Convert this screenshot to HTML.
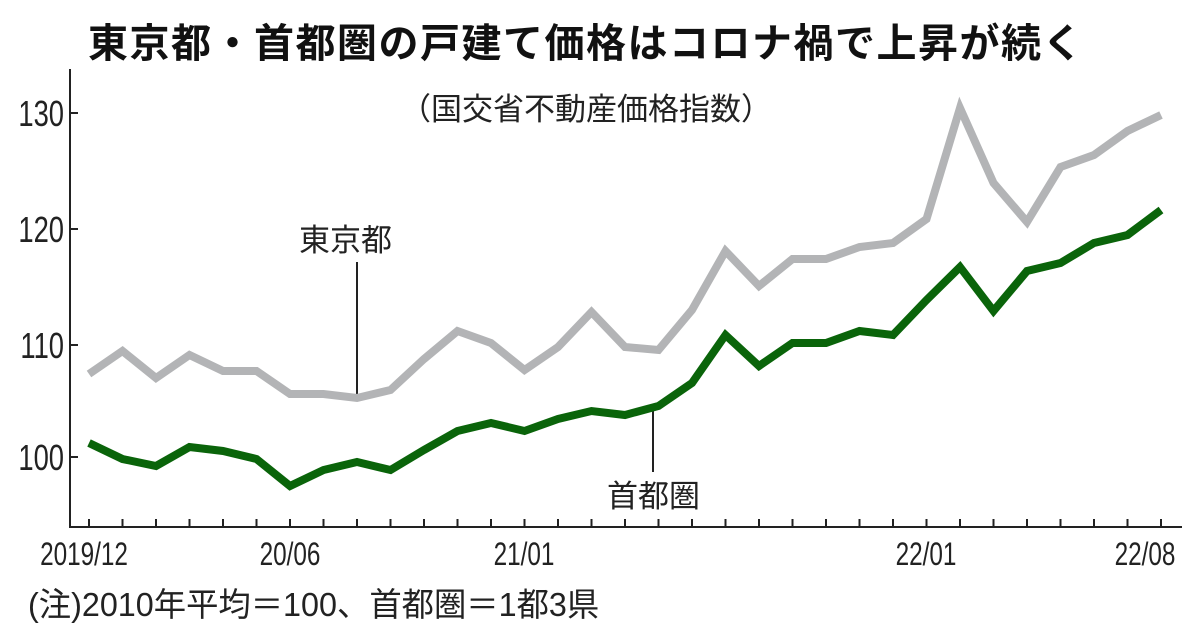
<!DOCTYPE html>
<html><head><meta charset="utf-8"><style>
html,body{margin:0;padding:0;background:#fff;}
svg{display:block;}
</style></head><body>
<svg width="1200" height="630" viewBox="0 0 1200 630" xmlns="http://www.w3.org/2000/svg">
<rect width="1200" height="630" fill="#fff"/>
<text x="88" y="57" font-family="'Liberation Sans','Noto Sans CJK JP',sans-serif" font-weight="bold" font-size="40" letter-spacing="1.5" fill="#111">東京都・首都圏の戸建て価格はコロナ禍で上昇が続く</text>
<text x="400" y="120" font-family="'Liberation Sans','Noto Sans CJK JP',sans-serif" font-size="31" fill="#222">（国交省不動産価格指数）</text>
<g stroke="#222" stroke-width="2" fill="none">
<path d="M70,69 V527 H1182"/>
<path d="M70,113 h8 M70,229 h8 M70,345 h8 M70,457 h8"/>
<path d="M89,527v-8 M122.5,527v-8 M156,527v-8 M189.5,527v-8 M223,527v-8 M256.5,527v-8 M290,527v-8 M323.5,527v-8 M357,527v-8 M390.5,527v-8 M424,527v-8 M457.5,527v-8 M491,527v-8 M524.5,527v-8 M558,527v-8 M591.5,527v-8 M625,527v-8 M658.5,527v-8 M692,527v-8 M725.5,527v-8 M759,527v-8 M792.5,527v-8 M826,527v-8 M859.5,527v-8 M893,527v-8 M926.5,527v-8 M960,527v-8 M993.5,527v-8 M1027,527v-8 M1060.5,527v-8 M1094,527v-8 M1127.5,527v-8 M1161,527v-8"/>
<path d="M357,262 V396 M653,410 V472"/>
</g>
<g font-family="'Liberation Sans',sans-serif" font-size="36" fill="#222" text-anchor="end">
<text transform="translate(64,126) scale(0.76,1)">130</text>
<text transform="translate(64,242) scale(0.76,1)">120</text>
<text transform="translate(64,358) scale(0.76,1)">110</text>
<text transform="translate(64,470) scale(0.76,1)">100</text>
</g>
<g font-family="'Liberation Sans',sans-serif" font-size="32" fill="#222" text-anchor="middle">
<text transform="translate(84,565) scale(0.76,1)">2019/12</text>
<text transform="translate(290,565) scale(0.76,1)">20/06</text>
<text transform="translate(524,565) scale(0.76,1)">21/01</text>
<text transform="translate(926,565) scale(0.76,1)">22/01</text>
<text transform="translate(1145,565) scale(0.76,1)">22/08</text>
</g>
<polyline fill="none" stroke="#b3b4b6" stroke-width="8" points="89,374 122.5,351 156,378 189.5,355 223,371 256.5,371 290,394 323.5,394 357,398 390.5,390 424,359 457.5,331 491,343 524.5,370 558,347 591.5,312 625,347 658.5,350 692,310 725.5,251 759,286 792.5,259 826,259 859.5,247 893,243 926.5,219 960,108 993.5,183 1027,222 1060.5,167 1094,155 1127.5,131 1161,115"/>
<polyline fill="none" stroke="#0a640a" stroke-width="8" points="89,443 122.5,459 156,466 189.5,447 223,451 256.5,459 290,486 323.5,470 357,462 390.5,470 424,450 457.5,431 491,423 524.5,431 558,419 591.5,411 625,415 658.5,406 692,383 725.5,335 759,366 792.5,343 826,343 859.5,331 893,335 926.5,300 960,267 993.5,311 1027,271 1060.5,263 1094,243 1127.5,235 1161,210"/>
<g font-family="'Liberation Sans','Noto Sans CJK JP',sans-serif" font-size="31" fill="#222">
<text x="299" y="251">東京都</text>
<text x="607" y="507">首都圏</text>
</g>
<text transform="translate(28,616) scale(0.98,1)" font-family="'Liberation Sans','Noto Sans CJK JP',sans-serif" font-size="33" fill="#222">(注)2010年平均＝100、首都圏＝1都3県</text>
</svg>
</body></html>
